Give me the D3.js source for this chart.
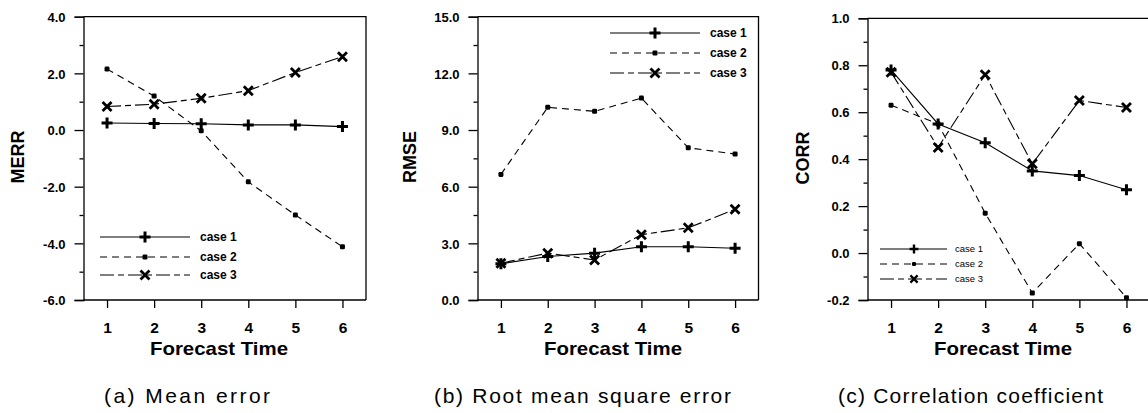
<!DOCTYPE html>
<html>
<head>
<meta charset="utf-8">
<script src="https://cdn.jsdelivr.net/npm/d3@7"></script>
<style>
  html, body { margin: 0; padding: 0; background: #fff; }
  svg { display: block; }
  .tick-y text { font-family: "Liberation Sans", Arial, sans-serif; font-weight: bold; font-size: 13px; fill: #000; }
  .tick-x text { font-family: "Liberation Sans Narrow", "Liberation Sans", Arial, sans-serif; font-weight: bold; font-size: 15.5px; fill: #000; }
  .axis path, .axis line { stroke: #000; stroke-width: 1.3; }
</style>
</head>
<body>
<svg id="chart" width="1148" height="413"></svg>
<script>
// Forecast lead times (x categories)
const forecastTime = [1, 2, 3, 4, 5, 6];
const caseNames = ["case 1", "case 2", "case 3"];

// Mean error (MERR)
const merrCase1 = [0.25, 0.23, 0.22, 0.18, 0.18, 0.12];
const merrCase2 = [2.15, 1.20, -0.03, -1.83, -3.00, -4.12];
const merrCase3 = [0.83, 0.91, 1.12, 1.39, 2.03, 2.59];

// Root mean square error (RMSE)
const rmseCase1 = [1.92, 2.30, 2.48, 2.82, 2.82, 2.74];
const rmseCase2 = [6.65, 10.20, 9.99, 10.69, 8.06, 7.73];
const rmseCase3 = [1.95, 2.48, 2.12, 3.46, 3.82, 4.80];

// Correlation coefficient (CORR)
const corrCase1 = [0.78, 0.55, 0.47, 0.35, 0.33, 0.27];
const corrCase2 = [0.63, 0.55, 0.17, -0.17, 0.04, -0.19];
const corrCase3 = [0.77, 0.45, 0.76, 0.38, 0.65, 0.62];

// Axis tick values
const merrMajor = [-6, -4, -2, 0, 2, 4];
const merrMinor = [-5, -3, -1, 1, 3];
const rmseMajor = [0, 3, 6, 9, 12, 15];
const rmseMinor = [1.5, 4.5, 7.5, 10.5, 13.5];
const corrMajor = [-0.2, 0, 0.2, 0.4, 0.6, 0.8, 1.0];
const corrMinor = [-0.1, 0.1, 0.3, 0.5, 0.7, 0.9];

const axisTitles = ["MERR", "RMSE", "CORR"];
const xTitle = "Forecast Time";
const captions = ["(a) Mean error", "(b) Root mean square error", "(c) Correlation coefficient"];

const svg = d3.select("#chart");

// Line styles per case: solid, short dash, long dash
const dashes = [null, "7,5", "14,4,6,4"];

// Marker shapes per case
function drawMarker(g, i, x, y, s) {
  s = s || 1;
  if (i === 0) {
    g.append("path")
      .attr("d", `M${x - 5.5 * s},${y}H${x + 5.5 * s}M${x},${y - 5.5 * s}V${y + 5.5 * s}`)
      .attr("stroke", "#000").attr("stroke-width", 3 * s).attr("fill", "none");
  } else if (i === 1) {
    g.append("rect")
      .attr("x", x - 2.5 * s).attr("y", y - 2.5 * s)
      .attr("width", 5 * s).attr("height", 5 * s).attr("rx", 1.3 * s)
      .attr("fill", "#000");
  } else {
    g.append("path")
      .attr("d", `M${x - 4.5 * s},${y - 4.5 * s}L${x + 4.5 * s},${y + 4.5 * s}M${x - 4.5 * s},${y + 4.5 * s}L${x + 4.5 * s},${y - 4.5 * s}`)
      .attr("stroke", "#000").attr("stroke-width", 2.8 * s).attr("fill", "none");
  }
}

const panels = [
  {
    left: 83.5, right: 366, top: 16.7, bottom: 300,
    domain: [-6, 4], major: merrMajor, minor: merrMinor,
    series: [merrCase1, merrCase2, merrCase3],
    titleX: 18, titleY: 157,
    legend: { x0: 100, x1: 190, xm: 145, xt: 200, rows: [237, 257, 275], size: 12, weight: "bold", scale: 1 },
    caption: { x: 104, len: 166 }
  },
  {
    left: 477.5, right: 758.5, top: 16.7, bottom: 300,
    domain: [0, 15], major: rmseMajor, minor: rmseMinor,
    series: [rmseCase1, rmseCase2, rmseCase3],
    titleX: 410, titleY: 157,
    legend: { x0: 610, x1: 700, xm: 655, xt: 710, rows: [33, 53, 73], size: 12, weight: "bold", scale: 1 },
    caption: { x: 434, len: 297 }
  },
  {
    left: 867.5, right: 1150, top: 18.3, bottom: 300,
    domain: [-0.2, 1.0], major: corrMajor, minor: corrMinor,
    series: [corrCase1, corrCase2, corrCase3],
    titleX: 803, titleY: 158,
    legend: { x0: 880, x1: 947, xm: 914, xt: 955, rows: [249, 264, 279], size: 9.5, weight: "normal", scale: 0.8 },
    caption: { x: 838, len: 265 }
  }
];

panels.forEach((p, pi) => {
  const x = d3.scaleLinear().domain([0.5, 6.5]).range([p.left, p.right]);
  const y = d3.scaleLinear().domain(p.domain).range([p.bottom, p.top]);
  const g = svg.append("g");

  // frame (top and right edges)
  g.append("path")
    .attr("d", `M${p.left},${p.top}H${p.right}V${p.bottom}`)
    .attr("fill", "none").attr("stroke", "#000").attr("stroke-width", 1.3);

  // left axis: major ticks with labels, minor ticks without
  const yMajor = g.append("g").attr("class", "axis tick-y")
    .attr("transform", `translate(${p.left},0)`)
    .call(d3.axisLeft(y).tickValues(p.major).tickSize(9).tickPadding(9)
      .tickFormat(d => d.toFixed(1)));
  yMajor.selectAll("text").attr("dy", "0.36em");
  g.append("g").attr("class", "axis")
    .attr("transform", `translate(${p.left},0)`)
    .call(d3.axisLeft(y).tickValues(p.minor).tickSize(4).tickFormat(""))
    .select(".domain").remove();

  // bottom axis
  const xAxis = g.append("g").attr("class", "axis tick-x")
    .attr("transform", `translate(0,${p.bottom})`)
    .call(d3.axisBottom(x).tickValues(forecastTime).tickSize(8).tickPadding(14)
      .tickFormat(d3.format("d")));
  xAxis.select(".domain").attr("d", `M${p.left},0H${p.right}`);

  // axis titles
  g.append("text")
    .attr("transform", `translate(${p.titleX},${p.titleY}) rotate(-90)`)
    .attr("text-anchor", "middle").attr("dominant-baseline", "central")
    .style("font-family", "'Liberation Sans', Arial, sans-serif")
    .style("font-weight", "bold").style("font-size", "18px")
    .text(axisTitles[pi]);

  g.append("text")
    .attr("x", 150 + (p.left - 83.5)).attr("y", 355)
    .attr("textLength", 138).attr("lengthAdjust", "spacingAndGlyphs")
    .style("font-family", "'Liberation Sans Narrow', 'Liberation Sans', Arial, sans-serif")
    .style("font-weight", "bold").style("font-size", "19px")
    .text(xTitle);

  // caption
  g.append("text")
    .attr("x", p.caption.x).attr("y", 403)
    .attr("textLength", p.caption.len).attr("lengthAdjust", "spacing")
    .style("font-family", "'Liberation Sans Narrow', 'Liberation Sans', Arial, sans-serif")
    .style("font-size", "21px")
    .text(captions[pi]);

  // series lines and markers
  const line = d3.line().x((d, i) => x(forecastTime[i])).y(d => y(d));
  p.series.forEach((vals, si) => {
    g.append("path").datum(vals)
      .attr("d", line)
      .attr("fill", "none").attr("stroke", "#000").attr("stroke-width", 1.1)
      .attr("stroke-dasharray", dashes[si]);
    vals.forEach((v, i) => drawMarker(g, si, x(forecastTime[i]), y(v), 1));
  });

  // legend
  const L = p.legend;
  caseNames.forEach((name, si) => {
    const ry = L.rows[si];
    g.append("line")
      .attr("x1", L.x0).attr("x2", L.x1).attr("y1", ry).attr("y2", ry)
      .attr("stroke", "#000").attr("stroke-width", 1.1)
      .attr("stroke-dasharray", dashes[si]);
    drawMarker(g, si, L.xm, ry, L.scale);
    g.append("text")
      .attr("x", L.xt).attr("y", ry).attr("dy", "0.35em")
      .style("font-family", "'Liberation Sans', Arial, sans-serif")
      .style("font-weight", L.weight).style("font-size", L.size + "px")
      .text(name);
  });
});
</script>
</body>
</html>
